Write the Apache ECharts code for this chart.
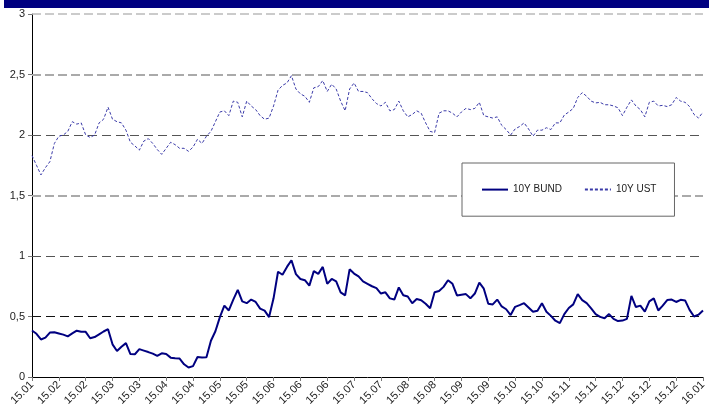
<!DOCTYPE html>
<html>
<head>
<meta charset="utf-8">
<script src="https://cdn.jsdelivr.net/npm/echarts@6/dist/echarts.min.js"></script>
<style>html,body{margin:0;padding:0;background:#fff}#c{width:709px;height:409px}</style>
</head>
<body>
<div id="c"></div>
<script>
// tick labels along the x axis (26 ticks)
var tickLabels = ['15.01','15.02','15.02','15.03','15.03','15.04','15.04','15.05','15.05','15.06','15.06','15.06','15.07','15.07','15.08','15.08','15.09','15.09','15.10','15.10','15.11','15.11','15.12','15.12','15.12','16.01'];
var pointsPerTick = 6;
// 10Y BUND yield (%), sampled 6 points per tick interval
var bund = [0.384,0.357,0.31,0.325,0.367,0.37,0.36,0.35,0.336,0.36,0.383,0.374,0.373,0.32,0.33,0.353,0.376,0.395,0.27,0.215,0.25,0.28,0.19,0.188,0.23,0.218,0.206,0.193,0.175,0.196,0.19,0.16,0.155,0.152,0.105,0.078,0.09,0.165,0.162,0.163,0.30,0.378,0.495,0.59,0.55,0.64,0.72,0.625,0.61,0.64,0.62,0.565,0.548,0.495,0.65,0.87,0.845,0.91,0.965,0.85,0.81,0.80,0.755,0.875,0.852,0.91,0.77,0.81,0.79,0.70,0.675,0.89,0.855,0.832,0.79,0.77,0.75,0.735,0.69,0.70,0.65,0.64,0.74,0.675,0.665,0.61,0.645,0.635,0.605,0.568,0.70,0.71,0.745,0.80,0.77,0.674,0.68,0.685,0.65,0.69,0.78,0.73,0.605,0.60,0.64,0.583,0.56,0.512,0.58,0.594,0.61,0.575,0.54,0.548,0.61,0.54,0.505,0.465,0.445,0.52,0.57,0.60,0.685,0.635,0.61,0.567,0.52,0.497,0.485,0.52,0.48,0.462,0.466,0.48,0.67,0.578,0.59,0.54,0.625,0.65,0.55,0.59,0.636,0.64,0.62,0.638,0.633,0.555,0.50,0.515,0.55];
// 10Y UST yield (%)
var ust = [1.83,1.75,1.67,1.73,1.78,1.93,1.99,2.0,2.03,2.11,2.09,2.10,2.0,1.98,2.0,2.10,2.13,2.23,2.13,2.11,2.10,2.04,1.94,1.91,1.875,1.95,1.97,1.93,1.88,1.84,1.89,1.94,1.92,1.89,1.89,1.865,1.90,1.965,1.93,1.99,2.03,2.11,2.19,2.20,2.16,2.28,2.27,2.15,2.28,2.24,2.21,2.16,2.13,2.14,2.24,2.37,2.41,2.43,2.49,2.38,2.34,2.32,2.27,2.39,2.40,2.45,2.36,2.42,2.38,2.28,2.20,2.38,2.43,2.36,2.36,2.35,2.30,2.26,2.24,2.27,2.20,2.21,2.28,2.20,2.15,2.17,2.20,2.18,2.10,2.03,2.02,2.18,2.20,2.20,2.18,2.15,2.19,2.22,2.21,2.22,2.27,2.16,2.15,2.14,2.15,2.08,2.045,2.0,2.05,2.07,2.10,2.05,1.99,2.04,2.04,2.06,2.045,2.10,2.10,2.165,2.19,2.22,2.31,2.35,2.32,2.28,2.265,2.27,2.25,2.25,2.24,2.225,2.16,2.23,2.29,2.24,2.21,2.15,2.27,2.28,2.24,2.245,2.235,2.25,2.31,2.28,2.27,2.235,2.17,2.14,2.19];
var gridValues = [0.5, 1, 1.5, 2, 2.5, 3];

var gridStyles = {
  0.5: {color:'#111', width:1, type:[9,5]},
  1:   {color:'#555', width:1, type:[9,5]},
  1.5: {color:'#aaa', width:2, type:[9,4]},
  2:   {color:'#555', width:1, type:[9,5]},
  2.5: {color:'#aaa', width:2, type:[9,4]},
  3:   {color:'#bbb', width:1.5, type:[9,4]}
};

function pairs(arr){ return arr.map(function(v,i){ return [i, v]; }); }

var chart = echarts.init(document.getElementById('c'));
var font = 'Liberation Sans, Arial, sans-serif';
chart.setOption({
  animation: false,
  graphic: [{type:'rect', shape:{x:4, y:0, width:705, height:8}, style:{fill:'#000080'}, silent:true}],
  grid: {left:32, right:4, top:14, bottom:32, containLabel:false},
  legend: {
    left: 462, top: 163,
    padding: [21, 18, 21, 19],
    itemGap: 22, itemWidth: 26, itemHeight: 14,
    borderColor: '#666', borderWidth: 1, backgroundColor: '#fff',
    itemStyle: {opacity: 0},
    textStyle: {fontFamily: font, fontSize: 10, color: '#222'},
    data: ['10Y BUND', '10Y UST']
  },
  xAxis: {
    type: 'value', min: 0, max: (tickLabels.length - 1) * pointsPerTick, interval: pointsPerTick,
    splitLine: {show:false},
    axisLine: {show:true, onZero:false, lineStyle:{color:'#000', width:1}},
    axisTick: {show:true, length:4, lineStyle:{color:'#777'}},
    axisLabel: {
      rotate: 45, margin: 6, fontFamily: font, fontSize: 11, color: '#222',
      formatter: function(v){ return tickLabels[Math.round(v / pointsPerTick)] || ''; }
    }
  },
  yAxis: {
    type: 'value', min: 0, max: 3, interval: 0.5,
    splitLine: {show:false},
    axisLine: {show:true, lineStyle:{color:'#000', width:1}},
    axisTick: {show:true, length:4, lineStyle:{color:'#777'}},
    axisLabel: {
      margin: 7, fontFamily: font, fontSize: 11, color: '#222',
      formatter: function(v){ return String(v).replace('.', ','); }
    }
  },
  series: [
    {
      name: '10Y BUND', type: 'line', symbol: 'none', z: 3,
      data: pairs(bund),
      lineStyle: {color:'#000080', width:2},
      itemStyle: {color:'#000080'},
      markLine: {
        silent: true, symbol: ['none','none'], label: {show:false}, z: 1,
        data: gridValues.map(function(v){ return {yAxis: v, lineStyle: gridStyles[v]}; })
      }
    },
    {
      name: '10Y UST', type: 'line', symbol: 'none', z: 3,
      data: pairs(ust),
      lineStyle: {color:'#3a3aa8', width:1, type:[3,2]},
      itemStyle: {color:'#3a3aa8'}
    }
  ]
});
</script>
</body>
</html>
